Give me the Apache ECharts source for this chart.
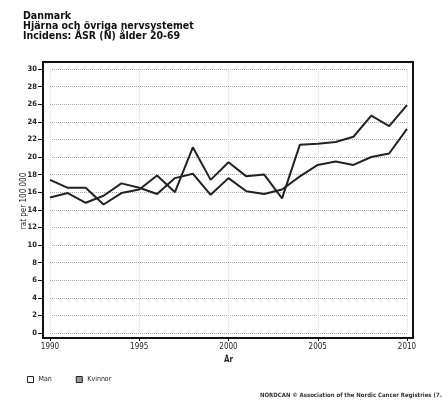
<!DOCTYPE html>
<html>
<head>
<meta charset="utf-8">
<script src="https://cdn.jsdelivr.net/npm/echarts@6/dist/echarts.min.js"></script>
<style>
  html, body { margin: 0; padding: 0; background: #fff; }
  #chart { width: 442px; height: 408px; }
</style>
</head>
<body>
<div id="chart"></div>
<script>
var years = [1990,1991,1992,1993,1994,1995,1996,1997,1998,1999,2000,2001,2002,2003,2004,2005,2006,2007,2008,2009,2010]
// linje som hoppar 2004
var kvinnor = [17.4,16.5,16.5,14.6,15.9,16.3,17.9,16.0,21.1,17.4,19.4,17.8,18.0,15.3,21.4,21.5,21.7,22.3,24.7,23.5,25.9]
var man = [15.4,15.9,14.8,15.6,17.0,16.5,15.8,17.6,18.1,15.7,17.6,16.1,15.8,16.3,17.8,19.1,19.5,19.1,20.0,20.4,23.2]

function pairs(vals) {
  var out = []
  for (var i = 0; i < years.length; i++) {
    out.push([years[i], vals[i]])
  }
  return out
}

var chart = echarts.init(document.getElementById('chart'))
var font = 'DejaVu Sans Condensed'

var option = {
  animation: false,
  backgroundColor: '#fff',
  title: {
    text: 'Danmark\nHjärna och övriga nervsystemet\nIncidens: ÅSR (N) ålder 20-69',
    left: 23,
    top: 11,
    padding: 0,
    textStyle: {
      fontFamily: font,
      fontSize: 10.5,
      fontWeight: 'bold',
      lineHeight: 10,
      color: '#111'
    }
  },
  legend: {
    left: 27,
    top: 376,
    padding: 0,
    itemWidth: 6,
    itemHeight: 6,
    itemGap: 24,
    icon: 'rect',
    textStyle: { fontFamily: font, fontSize: 7, color: '#222' },
    data: [
      { name: 'Man', itemStyle: { color: '#fff', borderColor: '#222', borderWidth: 1 } },
      { name: 'Kvinnor', itemStyle: { color: '#999', borderColor: '#222', borderWidth: 1 } }
    ]
  },
  grid: {
    left: 50,
    right: 35,
    top: 69,
    bottom: 75
  },
  xAxis: {
    type: 'value',
    min: 1990,
    max: 2010,
    interval: 5,
    offset: 5,
    name: 'År',
    nameLocation: 'middle',
    nameGap: 14,
    nameTextStyle: { fontFamily: font, fontSize: 8, fontWeight: 'bold', color: '#222' },
    axisLine: { show: true, onZero: false, lineStyle: { color: '#111', width: 2 } },
    axisTick: { show: true, length: 3, lineStyle: { color: '#111' } },
    axisLabel: {
      margin: 5,
      fontFamily: font,
      fontSize: 8,
      color: '#222',
      formatter: function (v) { return String(v) }
    },
    splitLine: { show: true, lineStyle: { color: '#ddd', type: 'dotted', width: 1 } }
  },
  yAxis: {
    type: 'value',
    min: 0,
    max: 30,
    interval: 2,
    offset: 7,
    name: 'rat per 100 000',
    nameLocation: 'middle',
    nameGap: 15,
    nameMoveOverlap: false,
    nameTextStyle: { fontFamily: font, fontSize: 8, color: '#222' },
    axisLine: { show: true, onZero: false, lineStyle: { color: '#111', width: 2 } },
    axisTick: { show: true, length: 5, lineStyle: { color: '#111' } },
    axisLabel: { margin: 6, fontFamily: font, fontSize: 7.5, fontWeight: 'bold', color: '#222' },
    splitLine: { show: true, lineStyle: { color: '#aaa', type: 'dotted', width: 1 } }
  },
  graphic: [
    {
      type: 'rect',
      shape: { x: 43, y: 62, width: 370, height: 276 },
      style: { fill: 'none', stroke: '#111', lineWidth: 2 },
      silent: true,
      z: 10
    },
    {
      type: 'text',
      left: 260,
      top: 392,
      style: {
        text: 'NORDCAN © Association of the Nordic Cancer Registries (7.12.2010)',
        fontFamily: font,
        fontSize: 6,
        fontWeight: 'bold',
        fill: '#333'
      }
    }
  ],
  series: [
    {
      name: 'Man',
      type: 'line',
      data: pairs(man),
      showSymbol: false,
      lineStyle: { color: '#222', width: 2 },
      itemStyle: { color: '#222' }
    },
    {
      name: 'Kvinnor',
      type: 'line',
      data: pairs(kvinnor),
      showSymbol: false,
      lineStyle: { color: '#222', width: 2 },
      itemStyle: { color: '#222' }
    }
  ]
}

chart.setOption(option)
</script>
</body>
</html>
